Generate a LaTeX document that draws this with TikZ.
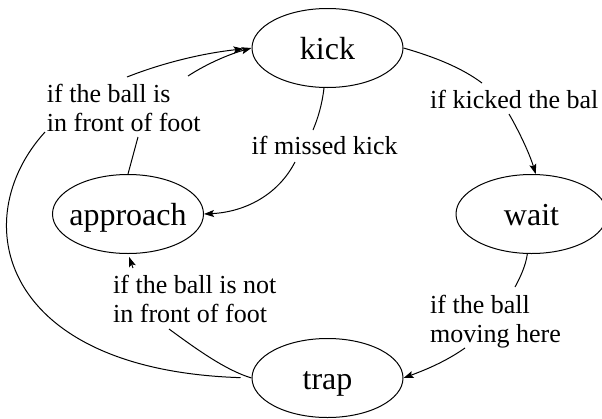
\documentclass[tikz,border=0pt]{standalone}
\usepackage{fontspec}
\setmainfont{Liberation Serif}
\usetikzlibrary{shapes.geometric,arrows.meta}

\begin{document}
\begin{tikzpicture}[x=1pt,y=-1pt,
  state/.style={ellipse,draw,line width=1pt,minimum width=151pt,minimum height=79pt,
    inner sep=0pt,font=\fontsize{32}{38}\selectfont,text height=22pt,text depth=0pt},
  cond/.style={anchor=base west,align=left,inner sep=0pt,font=\fontsize{26}{29}\selectfont},
  link/.style={line width=1pt},
  arrow/.style={link,-{Stealth[length=10pt,width=7pt,inset=2pt]}}]
\useasboundingbox (0,0) rectangle (602,418);

% states
\node[state] (kick)     at (327.5,48)  {\makebox[0pt]{kick}};
\node[state] (approach) at (128,214)   {\makebox[0pt]{approach}};
\node[state] (wait)     at (531.5,214) {\makebox[0pt]{wait}};
\node[state] (trap)     at (327.5,378) {\makebox[0pt]{trap}};

% transition conditions (anchored at the baseline of their last line)
\node[cond] (l1) at (46.7,131) {if the ball is\\in front of foot};
\node[cond] (l2) at (251.5,154) {if missed kick};
\node[cond] (l3) at (430,108) {if kicked the bal};
\node[cond] (l4) at (430,342) {if the ball\\moving here};
\node[cond] (l5) at (113,322) {if the ball is not\\in front of foot};

% points where edges leave and re-enter around their labels
\coordinate (e1a) at (45,132);  \coordinate (e1b) at (127,77);
\coordinate (e2a) at (138,137); \coordinate (e2b) at (188,76);
\coordinate (e3a) at (313,130); \coordinate (e3b) at (295,162);
\coordinate (e4a) at (482,83);  \coordinate (e4b) at (509,114);
\coordinate (e5a) at (515,287); \coordinate (e5b) at (465,348);
\coordinate (e6a) at (169,329); \coordinate (e6b) at (133,268);

% trap -> kick (outer loop)
\draw[link,shorten <=11pt] (trap.west) .. controls (0,370) and (-35,220) .. (e1a);
\draw[arrow,shorten >=8pt] (e1b) .. controls (165,62) and (205,53) .. (kick.west);

% approach -> kick
\draw[link] (approach.north) -- (e2a);
\draw[arrow] (e2b) .. controls (208,63) and (230,54) .. (kick.west);

% kick -> approach
\draw[link] (kick.265) .. controls (322,105) and (318,118) .. (e3a);
\draw[arrow] (e3b) .. controls (278,195) and (245,212) .. (approach.east);

% kick -> wait
\draw[link] (kick.east) .. controls (435,57) and (462,68) .. (e4a);
\draw[arrow] (e4b) .. controls (520,133) and (530,155) .. (wait.84);

% wait -> trap
\draw[link] (wait.264) .. controls (526,265) and (520,278) .. (e5a);
\draw[arrow] (e5b) .. controls (445,362) and (425,370) .. (trap.east);

% trap -> approach
\draw[link] (trap.west) .. controls (225,370) and (195,348) .. (e6a);
\draw[arrow,shorten >=3pt] (e6b) -- (approach.south);
\end{tikzpicture}
\end{document}
